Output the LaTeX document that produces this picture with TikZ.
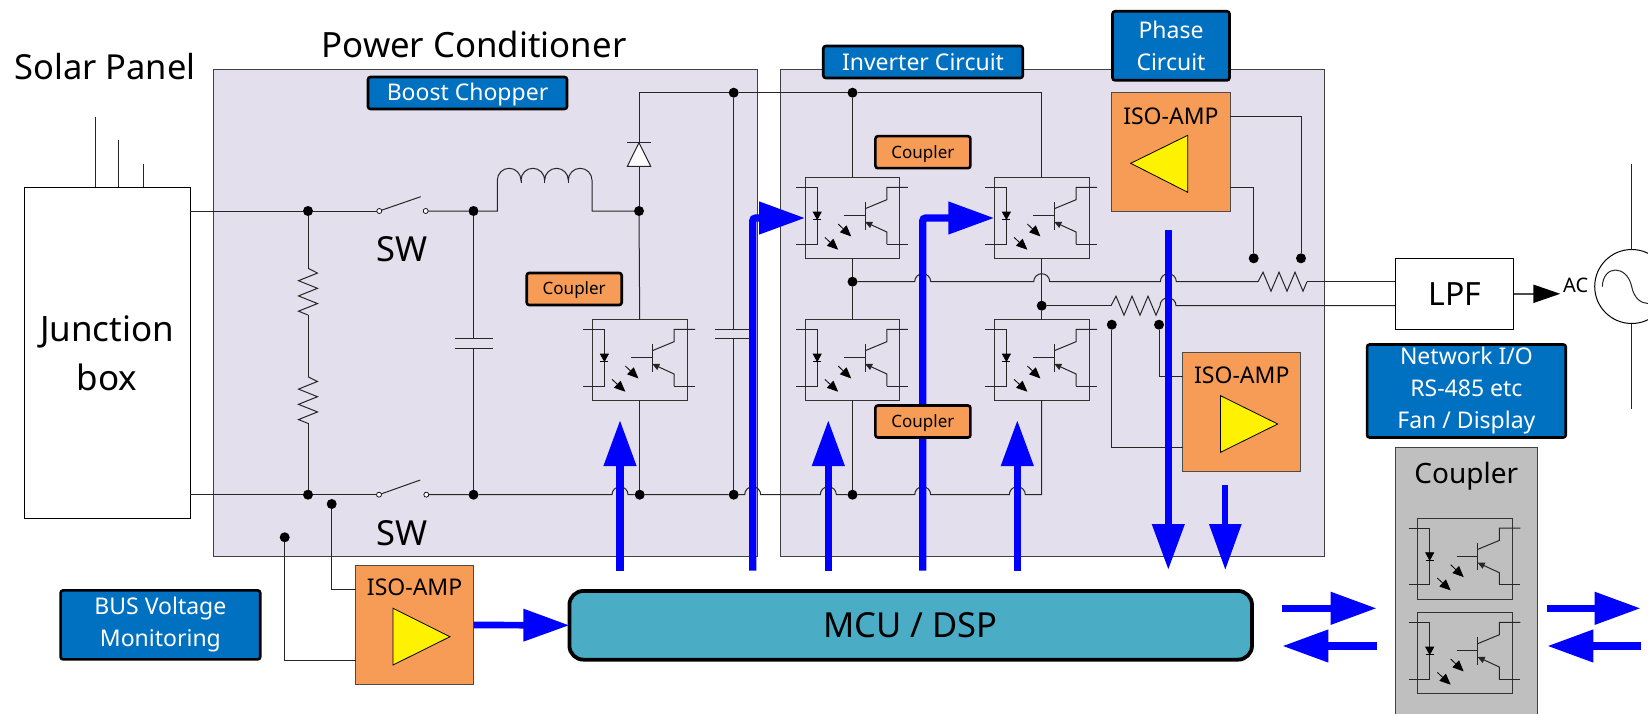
\documentclass[tikz,border=0pt]{standalone}
\usepackage{fontspec}
\setmainfont{Noto Sans}
\usetikzlibrary{arrows.meta,calc}
\definecolor{panelfill}{HTML}{E4DFEC}
\definecolor{badgeblue}{HTML}{0070C0}
\definecolor{ampfill}{HTML}{F79C57}
\definecolor{mcufill}{HTML}{4BACC6}
\definecolor{greyfill}{HTML}{BFBFBF}
\newcommand\wirebump{arc[start angle=180,end angle=360,radius=8]}
\newcommand\textsized[2]{\fontsize{#1}{#2}\selectfont}
\tikzset{
  wire/.style={draw=black!85, line width=1},
  panel/.style={draw=black!75, fill=panelfill, line width=1, inner sep=0, outer sep=0},
  bluebadge/.style={draw=black, fill=badgeblue, text=white, line width=2.6, rounded corners=2.5,
    inner sep=0, outer sep=0, align=center, font=\textsized{23}{32}},
  couplerbadge/.style={draw=black, fill=ampfill, line width=2.6, rounded corners=2.5,
    minimum width=95, minimum height=32, inner sep=0, outer sep=0, text depth=1, font=\textsized{17}{20}},
  isobox/.style={draw=black!70, fill=ampfill, line width=1, minimum width=118.2, minimum height=118.6,
    inner sep=0, outer sep=0},
  isotext/.style={inner sep=0, font=\textsized{23}{26}},
  amptriangle/.style={draw=black, fill=yellow, line width=0.8},
  optobox/.style={draw=black!80, line width=1, minimum width=94.7, minimum height=80.6, inner sep=0, outer sep=0},
  plainbox/.style={draw=black, fill=white, line width=1, inner sep=0, outer sep=0, align=center},
  bigtext/.style={inner sep=0, anchor=base},
  dotmark/.style={circle, fill=black, minimum size=10, inner sep=0, outer sep=0},
  opendot/.style={circle, draw=black, fill=white, line width=0.7, minimum size=5, inner sep=0, outer sep=0},
  bluearrow/.style={draw=blue, line width=7.3, -{Triangle[length=46pt,width=31pt]}},
  thinarrow/.style={-{Triangle[length=11pt,width=9.5pt]}, line width=0.8},
  optoinner/.pic={
    \draw[wire] (-56.3,-30.6) -- (-35.3,-30.6) -- (-35.3,26) -- (-56.3,26);
    \filldraw[line width=0.7] (-39.3,-6) -- (-31.3,-6) -- (-35.3,1.4) -- cycle;
    \draw[line width=0.8] (-39.3,1.4) -- (-31.3,1.4);
    \draw[thinarrow] (-14.35,6) -- (-1.35,18.4);
    \draw[thinarrow] (-27.65,19.4) -- (-14.35,31.7);
    \draw[wire] (-8.35,-2.6) -- (12.65,-2.6);
    \draw[wire] (12.65,-16) -- (12.65,11.7);
    \draw[wire] (12.65,-9.3) -- (34.35,-18.3) -- (34.35,-30.6) -- (55.35,-30.6);
    \draw[wire] (34.35,26) -- (55.35,26);
    \draw[wire, -{Triangle[length=7pt,width=6.5pt]}] (34.35,26) -- (34.35,14) -- (12.65,4);
  },
  zigzag/.pic={
    \draw[wire] (0,0) -- (5,-9.5) -- (13,9.5) -- (21,-9.5) -- (29,9.5) -- (37,-9.5) -- (45,9.5) -- (49,0);
  },
}
\begin{document}
    \begin{tikzpicture}[x=1pt, y=-1pt]
      \useasboundingbox (0,0) rectangle (1648,714);
      % panels and boxes
      \node[panel, minimum width=543.7, minimum height=486.7] (powerPanel) at (485.45,312.65) {};
      \node[panel, minimum width=543.9, minimum height=486.7] (inverterPanel) at (1052.65,312.65) {};
      \node[panel, fill=greyfill, minimum width=142, minimum height=282.6] (greyPanel) at (1466.3,588.6) {};
      \node[plainbox, minimum width=165.7, minimum height=331, font=\textsized{35}{49}] (junctionBox) at (107.15,352.8) {Junction\\box};
      \node[plainbox, minimum width=118.3, minimum height=71, font=\textsized{32}{36}] (lpfBox) at (1454.6,293.8) {LPF};
      \node[draw=black, fill=mcufill, line width=3.8, rounded corners=14, minimum width=682.6, minimum height=68.7,
        inner sep=0, outer sep=0, font=\textsized{34.5}{38}] (mcuBox) at (910.7,625.3) {MCU / DSP};
      \node[isobox] (isoBus) at (414.6,625) {};
      \node[isobox] (isoPhase) at (1170.9,152) {};
      \node[isobox] (isoInv) at (1241.8,412.2) {};
      \node[isotext] (isoBusText) at (414.6,587) {ISO-AMP};
      \node[isotext] (isoPhaseText) at (1170.9,116) {ISO-AMP};
      \node[isotext] (isoInvText) at (1241.8,375.7) {ISO-AMP};
      \draw[amptriangle] (393,608.3) -- (393,665) -- (450,636.7) -- cycle;
      \draw[amptriangle] (1187.7,135.3) -- (1187.7,192.3) -- (1130.7,163.3) -- cycle;
      \draw[amptriangle] (1220.5,395.7) -- (1220.5,452.3) -- (1277.7,424) -- cycle;
      % optocouplers
      \foreach \optoname/\optopos in {optoBoost/{639.7,360}, optoA/{852.5,218}, optoB/{1041.7,218},
        optoC/{852.5,360}, optoD/{1041.7,360}, optoNetA/{1465,558.7}, optoNetB/{1465,653}} {
        \node[optobox] (\optoname) at (\optopos) {};
        \pic at (\optoname) {optoinner};
      }
      % solar panel leads
      \coordinate (leadA) at (95.4,116.7);
      \coordinate (leadB) at (118.6,140);
      \coordinate (leadC) at (143,164);
      \draw[wire] (leadA) -- (leadA |- junctionBox.north);
      \draw[wire] (leadB) -- (leadB |- junctionBox.north);
      \draw[wire] (leadC) -- (leadC |- junctionBox.north);
      % dots
      \foreach \dotname/\dotpos in {dotTopA/{308,211}, dotTopB/{473.5,211}, dotDiode/{639,211}, dotBusA/{733.7,92.7},
        dotBusB/{852.5,92.7}, dotMidA/{852.5,281.7}, dotMidB/{1041.7,305.7}, dotBotA/{308,494.7}, dotBotB/{473.5,494.7},
        dotBotC/{639.7,494.7}, dotBotD/{733.7,494.7}, dotBotE/{852.5,494.7}, dotSenseA/{331.7,504}, dotSenseB/{284.7,537.3},
        dotPhaseA/{1253.7,258.3}, dotPhaseB/{1301,258.3}, dotInvA/{1111.8,324.7}, dotInvB/{1159,324.7}} {
        \node[dotmark] (\dotname) at (\dotpos) {};
      }
      % top and bottom rails
      \node[opendot] (swTopA) at (379.3,211) {};
      \node[opendot] (swTopB) at (425.7,211) {};
      \node[opendot] (swBotA) at (379,494.7) {};
      \node[opendot] (swBotB) at (426.3,494.7) {};
      \draw[wire] (swTopA) -- (420.7,196.7);
      \draw[wire] (swBotA) -- (420.3,480);
      \draw[wire] (junctionBox.east |- dotTopA) -- (dotTopA) -- (swTopA);
      \draw[wire] (swTopB) -- (dotTopB) -- (497.3,211) -- (497.3,180.3)
        arc[start angle=180,end angle=360,x radius=11.84,y radius=12]
        arc[start angle=180,end angle=360,x radius=11.84,y radius=12]
        arc[start angle=180,end angle=360,x radius=11.84,y radius=12]
        arc[start angle=180,end angle=360,x radius=11.84,y radius=12]
        -- (592,211) -- (dotDiode);
      \foreach \cuspx in {521,544.6,568.3} {
        \draw[wire] (\cuspx,180.3) -- (\cuspx,183);
      }
      \draw[wire] (junctionBox.east |- dotBotA) -- (dotBotA) -- (swBotA);
      \draw[wire] (swBotB) -- (dotBotB) -- (612,494.7) \wirebump -- (dotBotC) -- (dotBotD) -- (744.7,494.7) \wirebump
        -- (820.3,494.7) \wirebump -- (dotBotE) -- (914.7,494.7) \wirebump -- (1009.3,494.7) \wirebump
        -- (optoD.south |- dotBotE) -- (optoD.south);
      % divider resistors
      \draw[wire] (dotTopA) -- (308,268.3);
      \pic[rotate=-90, xscale=0.953] at (308,268.3) {zigzag};
      \draw[wire] (308,315) -- (308,376.7);
      \pic[rotate=-90, xscale=0.953] at (308,376.7) {zigzag};
      \draw[wire] (308,423.4) -- (dotBotA);
      % capacitors
      \draw[wire] (dotTopB) -- (473.5,338.5);
      \draw[wire] (473.5,348.2) -- (dotBotB);
      \draw[wire] (454.5,338.5) -- (492.5,338.5);
      \draw[wire] (454.5,348.2) -- (492.5,348.2);
      \draw[wire] (dotBusA) -- (733.7,329.3);
      \draw[wire] (733.7,338.3) -- (dotBotD);
      \draw[wire] (714.7,329.3) -- (752.7,329.3);
      \draw[wire] (714.7,338.3) -- (752.7,338.3);
      % diode and dc bus
      \draw[wire] (dotDiode) -- (639,142.7);
      \draw[wire, fill=white] (639,142.7) -- (627.3,166.3) -- (650.7,166.3) -- cycle;
      \draw[wire] (627.3,142.7) -- (650.7,142.7);
      \draw[wire] (639,142.7) -- (639,92.7) -- (dotBusA) -- (dotBusB) -- (optoB.north |- dotBusB) -- (optoB.north);
      \draw[wire] (dotDiode) -- (optoBoost.north);
      \draw[wire] (optoBoost.south) -- (dotBotC);
      % inverter legs
      \draw[wire] (dotBusB) -- (optoA.north);
      \draw[wire] (optoA.south) -- (dotMidA) -- (optoC.north);
      \draw[wire] (optoC.south) -- (dotBotE);
      \draw[wire] (optoB.south) -- (dotMidB) -- (optoD.north);
      \draw[wire] (dotMidA) -- (914.7,281.7) \wirebump -- (1033.7,281.7) \wirebump -- (1160.3,281.7) \wirebump -- (1258,281.7);
      \pic at (1258,281.7) {zigzag};
      \draw[wire] (1307,281.7) -- (lpfBox.west |- dotMidA);
      \draw[wire] (dotMidB) -- (1111,305.7);
      \pic at (1111,305.7) {zigzag};
      \draw[wire] (1160,305.7) \wirebump -- (lpfBox.west |- dotMidB);
      % iso-amp sense wires
      \draw[wire] (isoPhase.east |- 0,116.7) -| (dotPhaseB);
      \draw[wire] (isoPhase.east |- 0,187.7) -| (dotPhaseA);
      \draw[wire] (dotInvB) |- (isoInv.west |- 0,376.7);
      \draw[wire] (dotInvA) |- (isoInv.west |- 0,447.3);
      \draw[wire] (dotSenseA) |- (isoBus.west |- 0,589.3);
      \draw[wire] (dotSenseB) |- (isoBus.west |- 0,660);
      % grid side
      \node[circle, draw=black, line width=1, minimum size=74, inner sep=0, outer sep=0] (acSource) at (1631.7,286.5) {};
      \coordinate (gridTop) at (1631.7,164);
      \coordinate (gridBot) at (1631.7,409.3);
      \draw[wire] (gridTop) -- (acSource);
      \draw[wire] (acSource) -- (gridBot);
      \draw[wire] (1602.3,286.7) .. controls (1603,264.5) and (1627,264.5) .. (1631.7,286.7)
        .. controls (1636,309) and (1660,309) .. (1661,286.7);
      \coordinate (lpfTip) at (1560.3,293.8);
      \draw[draw=black!70, line width=2, -{Triangle[length=27pt,width=18pt,color=black]}] (lpfBox.east) -- (lpfTip);
      \node[inner sep=0, anchor=base west, font=\textsized{20}{22}] (acLabel) at (1563,292.7) {AC};
      % blue signal arrows
      \foreach \arrowname/\arrowx in {arrA/620, arrB/828.3, arrC/1017.3} {
        \coordinate (\arrowname Tail) at (\arrowx,570.7);
        \coordinate (\arrowname Tip) at (\arrowx,420);
        \draw[bluearrow] (\arrowname Tail) -- (\arrowname Tip);
      }
      \coordinate (arrDTail) at (752.7,570.7);
      \coordinate (arrETail) at (922.7,570.7);
      \draw[bluearrow, rounded corners=3] (arrDTail) |- (optoA.west);
      \draw[bluearrow, rounded corners=3] (arrETail) |- (optoB.west);
      \coordinate (arrFTail) at (1168.3,230);
      \coordinate (arrFTip) at (1168.3,570);
      \coordinate (arrGTail) at (1225.3,485.3);
      \coordinate (arrGTip) at (1225.3,570);
      \draw[bluearrow] (arrFTail) -- (arrFTip);
      \draw[bluearrow, line width=6] (arrGTail) -- (arrGTip);
      \draw[bluearrow, line width=6.7] (isoBus.east) -- (mcuBox.west);
      \foreach \arrowname/\ya/\xa/\xb in {netA/608.3/1281.7/1376.7, netB/646/1376.7/1282.3,
        netC/608.3/1546.7/1640.7, netD/646/1641/1547.3} {
        \coordinate (\arrowname Tail) at (\xa,\ya);
        \coordinate (\arrowname Tip) at (\xb,\ya);
        \draw[bluearrow] (\arrowname Tail) -- (\arrowname Tip);
      }
      % couplers and circuit badges
      \node[couplerbadge] (couplerBoost) at (574.2,289) {Coupler};
      \node[couplerbadge] (couplerTop) at (922.9,152.2) {Coupler};
      \node[couplerbadge] (couplerLow) at (922.9,421.5) {Coupler};
      \node[bluebadge, text depth=1.5, minimum width=199, minimum height=32] (boostBadge) at (467.5,93) {Boost Chopper};
      \node[bluebadge, minimum width=199.5, minimum height=32] (inverterBadge) at (923,62) {Inverter Circuit};
      \node[bluebadge, minimum width=117, minimum height=69] (phaseBadge) at (1171,45.8) {Phase\\Circuit};
      \node[bluebadge, minimum width=198.7, minimum height=93] (networkBadge) at (1466.4,391) {Network I/O\\RS-485 etc\\Fan / Display};
      \node[bluebadge, minimum width=199.6, minimum height=69] (busBadge) at (160.4,624.9) {BUS Voltage\\Monitoring};
      % titles
      \node[bigtext, font=\textsized{34.5}{38}] (solarTitle) at (105,80) {Solar Panel};
      \node[bigtext, font=\textsized{34.8}{38}] (powerTitle) at (474,57.3) {Power Conditioner};
      \node[bigtext, font=\textsized{34.5}{38}] (swTopLabel) at (402.5,261.7) {SW};
      \node[bigtext, font=\textsized{34.5}{38}] (swBotLabel) at (402,545.3) {SW};
      \node[bigtext, font=\textsized{28}{32}] (couplerTitle) at (1466.3,483) {Coupler};
    \end{tikzpicture}
\end{document}
